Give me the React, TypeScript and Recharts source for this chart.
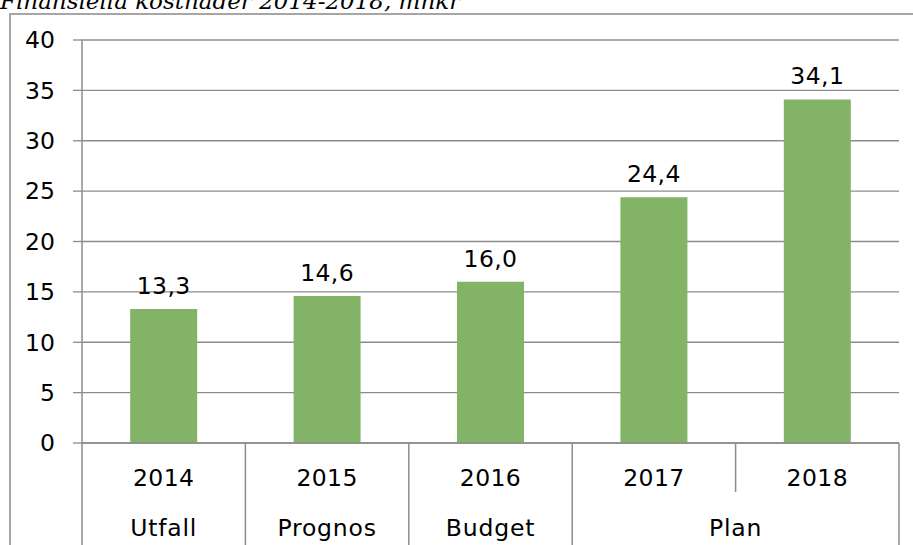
import React from 'react';
import { BarChart, Bar, XAxis, YAxis, CartesianGrid, LabelList } from 'recharts';

const years = ['2014', '2015', '2016', '2017', '2018'];
const groups = ['Utfall', 'Prognos', 'Budget', 'Plan', 'Plan'];
const costs = [13.3, 14.6, 16.0, 24.4, 34.1];
const yTicks = [0, 5, 10, 15, 20, 25, 30, 35, 40];

const data = years.map((year, i) => ({ year, group: groups[i], value: costs[i] }));

const W = 913;
const H = 545;
const margin = { top: 40, right: 14, bottom: 0, left: 0 };
const yAxisW = 82;
const band = (W - margin.left - margin.right - yAxisW) / years.length;

const font = '"DejaVu Sans", Verdana, sans-serif';
const fs = 23.5;
const gray = '#8c8c8c';

const isGroupStart = (i: number) => i === 0 || groups[i] !== groups[i - 1];

const CategoryTick = (props: any) => {
  const { x, y, payload } = props;
  const i = payload.index;
  const left = x - band / 2;
  const right = x + band / 2;
  let span = 1;
  while (i + span < groups.length && groups[i + span] === groups[i]) span++;
  return (
    <g>
      <line x1={left} x2={left} y1={y} y2={isGroupStart(i) ? y + 110 : y + 49} stroke={gray} strokeWidth={1.5} />
      {i === years.length - 1 && (
        <line x1={right} x2={right} y1={y} y2={y + 110} stroke={gray} strokeWidth={1.5} />
      )}
      <text x={x} y={y + 43} textAnchor="middle" fontFamily={font} fontSize={fs} letterSpacing={0.4} fill="#000">
        {years[i]}
      </text>
      {isGroupStart(i) && (
        <text
          x={x + ((span - 1) * band) / 2}
          y={y + 93}
          textAnchor="middle"
          fontFamily={font}
          fontSize={fs}
          letterSpacing={0.8}
          fill="#000"
        >
          {groups[i]}
        </text>
      )}
    </g>
  );
};

export default function App() {
  return (
    <div style={{ position: 'absolute', left: 0, top: 0, width: W, height: H, overflow: 'hidden', background: '#fff' }}>
      <div
        style={{
          position: 'absolute',
          left: 9,
          top: 13,
          width: 1000,
          height: 1000,
          borderLeft: '2px solid #a6a6a6',
          borderTop: '2px solid #a6a6a6',
        }}
      />
      <svg style={{ position: 'absolute', left: 0, top: 0 }} width={W} height={30}>
        <text x={0} y={9} fontFamily='"DejaVu Serif", serif' fontStyle="italic" fontSize={23} fill="#000">
          Finansiella kostnader 2014-2018, mnkr
        </text>
      </svg>
      <div style={{ position: 'absolute', left: 0, top: 0 }}>
        <BarChart width={W} height={H} data={data} margin={margin} barCategoryGap="29.5%">
          <CartesianGrid vertical={false} stroke={gray} strokeWidth={1.3} />
          <XAxis
            dataKey="year"
            height={H - margin.top - margin.bottom - 403}
            interval={0}
            tickLine={false}
            tickSize={0}
            tickMargin={0}
            axisLine={{ stroke: gray, strokeWidth: 1.5 }}
            tick={<CategoryTick />}
          />
          <YAxis
            width={yAxisW}
            domain={[0, 40]}
            ticks={yTicks}
            interval={0}
            tickSize={9}
            tickMargin={18}
            axisLine={{ stroke: gray, strokeWidth: 1.5 }}
            tickLine={{ stroke: gray, strokeWidth: 1.3 }}
            tick={{ fontFamily: font, fontSize: fs, fill: '#000' }}
          />
          <Bar dataKey="value" fill="#82b366" isAnimationActive={false}>
            <LabelList
              dataKey="value"
              position="top"
              offset={15}
              formatter={(v: any) => Number(v).toFixed(1).replace('.', ',')}
              style={{ fontFamily: font, fontSize: fs, fill: '#000', letterSpacing: 0.4 }}
            />
          </Bar>
        </BarChart>
      </div>
    </div>
  );
}
